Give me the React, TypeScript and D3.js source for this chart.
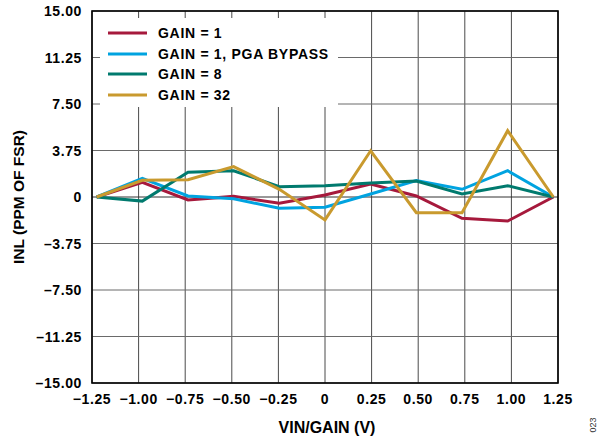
import React from "react";
import * as d3 from "d3";

const xValues = [-1.225, -0.98, -0.735, -0.49, -0.245, 0, 0.245, 0.49, 0.735, 0.98, 1.225];
const gain1 = [0, 1.18, -0.24, 0.05, -0.51, 0.16, 1.05, 0.08, -1.72, -1.94, 0];
const gain1Bypass = [0, 1.5, 0.08, -0.15, -0.91, -0.83, 0.24, 1.32, 0.62, 2.12, 0];
const gain8 = [0, -0.33, 2.0, 2.12, 0.83, 0.91, 1.12, 1.29, 0.24, 0.91, 0];
const gain32 = [0, 1.35, 1.4, 2.45, 0.62, -1.85, 3.73, -1.27, -1.27, 5.35, 0];

const seriesNames = ["GAIN = 1", "GAIN = 1, PGA BYPASS", "GAIN = 8", "GAIN = 32"];
const seriesColors = ["#A6193C", "#00A3E0", "#007A6E", "#C99A2E"];
const seriesData = [gain1, gain1Bypass, gain8, gain32];

const xTicks = [-1.25, -1.0, -0.75, -0.5, -0.25, 0, 0.25, 0.5, 0.75, 1.0, 1.25];
const xTickLabels = ["−1.25", "−1.00", "−0.75", "−0.50", "−0.25", "0", "0.25", "0.50", "0.75", "1.00", "1.25"];
const yTicks = [15, 11.25, 7.5, 3.75, 0, -3.75, -7.5, -11.25, -15];
const yTickLabels = ["15.00", "11.25", "7.50", "3.75", "0", "–3.75", "–7.50", "–11.25", "–15.00"];

const FONT = "'Liberation Sans', Arial, Helvetica, sans-serif";

export default function App() {
  const left = 92, right = 558, top = 11, bottom = 383;
  const x = d3.scaleLinear().domain([-1.25, 1.25]).range([left, right]);
  const y = d3.scaleLinear().domain([-15, 15]).range([bottom, top]);
  const line = d3.line<number>().x((_, i) => x(xValues[i])).y((d) => y(d));

  const legendX = 108;
  const legendY = [33, 54, 74, 95];

  return (
    <svg width={600} height={439} style={{ position: "absolute", left: 0, top: 0 }} fontFamily={FONT}>
      <rect width={600} height={439} fill="#fff" />
      {xTicks.map((t, i) => (
        <line key={"vx" + i} x1={x(t)} x2={x(t)} y1={top} y2={bottom} stroke="#4a4a4a" strokeWidth={1} />
      ))}
      {yTicks.map((t, i) => (
        <line key={"hy" + i} x1={left} x2={right} y1={y(t)} y2={y(t)} stroke={t === 0 ? "#333" : "#6a6a6a"} strokeWidth={1} />
      ))}
      <rect x={100} y={18} width={238} height={89} fill="#fff" />
      <rect x={left} y={top} width={right - left} height={bottom - top} fill="none" stroke="#000" strokeWidth={1.6} />
      {seriesData.map((s, i) => (
        <path key={"s" + i} d={line(s) || ""} fill="none" stroke={seriesColors[i]} strokeWidth={3} strokeLinejoin="miter" />
      ))}
      {seriesNames.map((n, i) => (
        <g key={"lg" + i}>
          <line x1={legendX} x2={legendX + 39} y1={legendY[i]} y2={legendY[i]} stroke={seriesColors[i]} strokeWidth={3} />
          <text x={158} y={legendY[i] + 5} fontSize={14} letterSpacing={0.7} fontWeight="bold" fill="#000">{n}</text>
        </g>
      ))}
      {yTicks.map((t, i) => (
        <text key={"yl" + i} x={82} y={y(t) + 5} fontSize={14} letterSpacing={0.6} fontWeight="bold" textAnchor="end">{yTickLabels[i]}</text>
      ))}
      {xTicks.map((t, i) => (
        <text key={"xl" + i} x={x(t)} y={404} fontSize={14} letterSpacing={0.6} fontWeight="bold" textAnchor="middle">{xTickLabels[i]}</text>
      ))}
      <text x={327} y={433} fontSize={16} fontWeight="bold" textAnchor="middle">VIN/GAIN (V)</text>
      <text transform={`translate(24,${(top + bottom) / 2}) rotate(-90)`} fontSize={15.5} fontWeight="bold" textAnchor="middle">INL (PPM OF FSR)</text>
      <text transform="translate(596,425) rotate(-90)" fontSize={9} textAnchor="middle" fill="#333">023</text>
    </svg>
  );
}
